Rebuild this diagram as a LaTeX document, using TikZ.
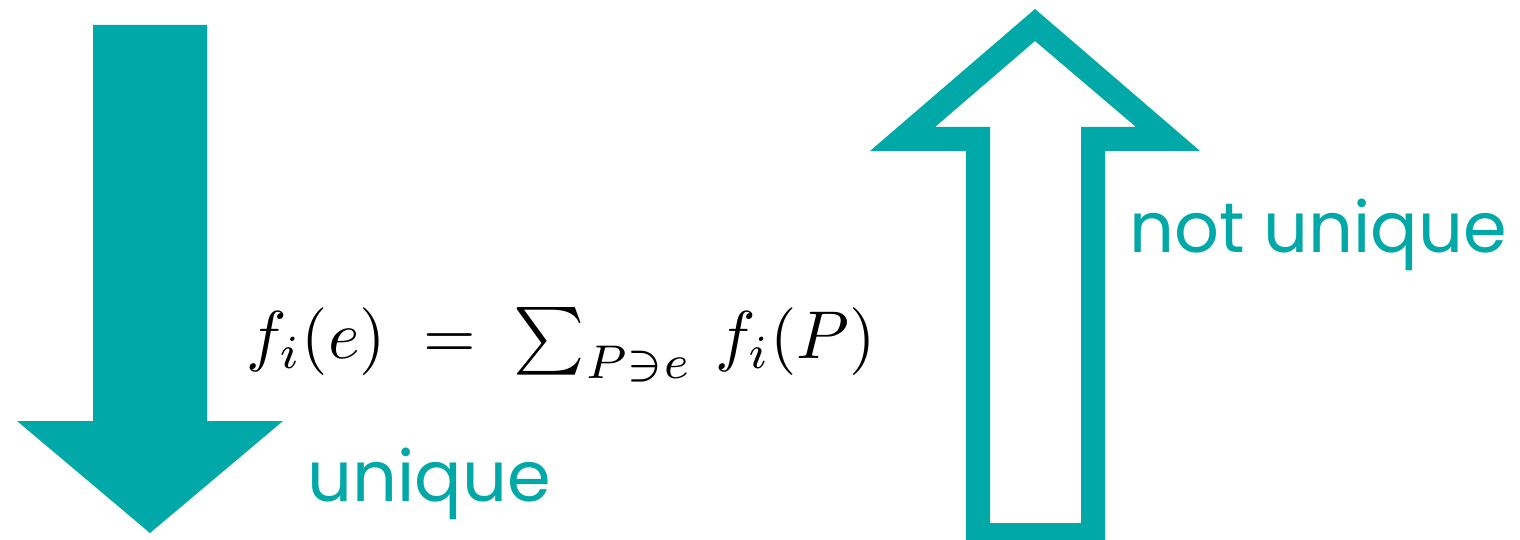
\documentclass[tikz,border=0pt]{standalone}
\usepackage{fontspec}
\newfontfamily\labelfont{Poppins}
\definecolor{arrowteal}{RGB}{0,168,168}
\tikzset{
  label text/.style={text=arrowteal,font=\labelfont\fontsize{40}{48}\selectfont,inner sep=0pt,anchor=base west},
  formula text/.style={inner sep=0pt,anchor=base west}
}

\begin{document}
\begin{tikzpicture}[x=0.02cm,y=-0.02cm,line join=miter]
  \useasboundingbox (0,0) rectangle (1520,540);
  % solid arrow, pointing down
  \coordinate (dtop) at (150,25);
  \coordinate (dtip) at (150,533);
  \fill[arrowteal] (93,25) -- (207,25) -- (207,421) -- (283,421) -- (dtip)
    -- (17,421) -- (93,421) -- cycle;
  % hollow arrow, pointing up
  \coordinate (utip) at (1035,9);
  \coordinate (uin) at (1035,41);
  \fill[arrowteal,even odd rule]
    (966,540) -- (966,151) -- (870,151) -- (utip) -- (1200,151) -- (1105,151) -- (1105,540) -- cycle
    (990,523) -- (990,127) -- (935,127) -- (uin) -- (1136,127) -- (1081,127) -- (1081,523) -- cycle;
  \node[formula text] (flow) at (246,358) {\scalebox{3.85}{$f_i(e) \;=\; \sum_{P\ni e} \, f_i(P)$}};
  \node[label text] (uniq) at (307,501) {unique};
  \node[label text] (nuniq) at (1129,253) {not unique};
\end{tikzpicture}
\end{document}
